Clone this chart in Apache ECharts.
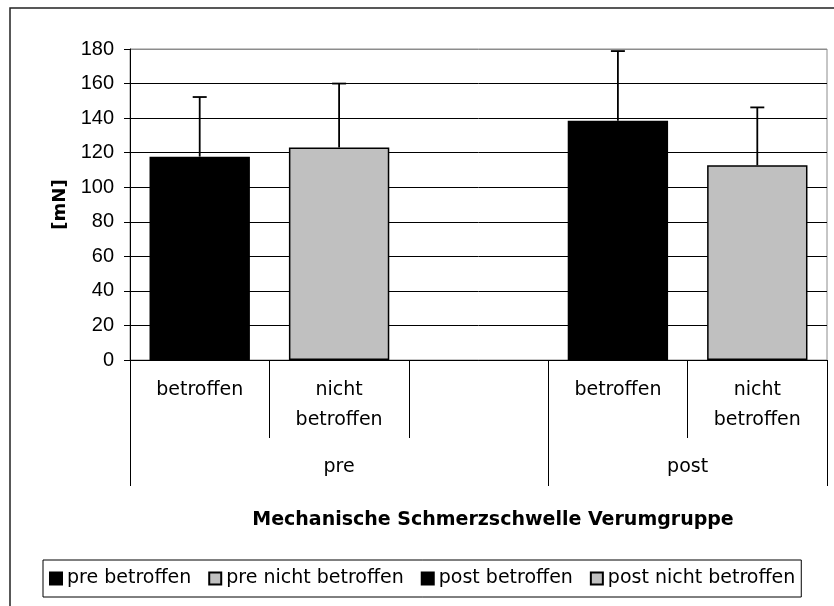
<!DOCTYPE html>
<html>
<head>
<meta charset="utf-8">
<script src="https://cdn.jsdelivr.net/npm/echarts@6/dist/echarts.min.js"></script>
<style>
  html, body { margin: 0; padding: 0; background: #fff; }
  #chart { width: 834px; height: 606px; }
</style>
</head>
<body>
<div id="chart"></div>
<script>
// Inner category axis (one slot left empty between the two phases)
const categories = ['betroffen', 'nicht\nbetroffen', '', 'betroffen', 'nicht\nbetroffen'];
// Outer group labels and the slot positions they span
const groupLabels = ['pre', 'post'];
const groupCenters = [1.5, 4];
const groupBounds = [0, 3, 5];

const seriesNames = ['pre betroffen', 'pre nicht betroffen', 'post betroffen', 'post nicht betroffen'];
const seriesSlots = [0, 1, 3, 4];
const means = [117.7, 123.0, 138.5, 112.7];
const sds = [34.5, 37.0, 40.3, 33.5];

const yTicks = { min: 0, max: 180, step: 20 };

const NUM_FONT = "'Liberation Sans', Arial, sans-serif";
const TEXT_FONT = "'DejaVu Sans', Verdana, sans-serif";
const fills = ['#000000', '#c0c0c0', '#000000', '#c0c0c0'];

const barSeries = seriesNames.map((name, i) => {
  const data = categories.map(() => null);
  data[seriesSlots[i]] = means[i];
  return {
    name: name,
    type: 'bar',
    xAxisIndex: 0,
    yAxisIndex: 0,
    barWidth: '72%',
    barGap: '-100%',
    data: data,
    itemStyle: { color: fills[i], borderColor: '#000', borderWidth: 1.5 },
    emphasis: { disabled: true },
    z: 2
  };
});

const errorData = seriesSlots.map((slot, i) => [slot, means[i], sds[i]]);

const errorSeries = {
  type: 'custom',
  xAxisIndex: 0,
  yAxisIndex: 0,
  data: errorData,
  z: 5,
  silent: true,
  renderItem: function (params, api) {
    const x = api.value(0);
    const base = api.coord([x, api.value(1)]);
    const top = api.coord([x, api.value(1) + api.value(2)]);
    const half = 7;
    const style = { stroke: '#000', lineWidth: 1.8 };
    return {
      type: 'group',
      children: [
        { type: 'line', shape: { x1: base[0], y1: base[1], x2: top[0], y2: top[1] }, style: style },
        { type: 'line', shape: { x1: top[0] - half, y1: top[1], x2: top[0] + half, y2: top[1] }, style: style }
      ]
    };
  }
};

// grid lines are black; the one on top of the plot is grey like the plot frame
const nLines = (yTicks.max - yTicks.min) / yTicks.step + 1;
const splitColors = [];
for (let i = 0; i < nLines; i++) splitColors.push(i === nLines - 1 ? '#8c8c8c' : '#000');

const chart = echarts.init(document.getElementById('chart'), null, { renderer: 'canvas' });
chart.setOption({
  animation: false,
  backgroundColor: '#fff',
  textStyle: { fontFamily: TEXT_FONT },
  title: {
    text: 'Mechanische Schmerzschwelle Verumgruppe',
    left: 488,
    top: 506,
    textAlign: 'center',
    textStyle: { fontFamily: TEXT_FONT, fontSize: 19, fontWeight: 'bold', color: '#000' }
  },
  grid: {
    left: 130, top: 49, right: 7, bottom: 246,
    show: true, borderColor: '#8c8c8c', borderWidth: 1, backgroundColor: 'transparent'
  },
  legend: {
    data: seriesNames,
    left: 43,
    top: 560,
    icon: 'rect',
    itemWidth: 12,
    itemHeight: 12,
    itemGap: 17,
    padding: [9, 6, 9, 6],
    borderColor: '#000',
    borderWidth: 1,
    selectedMode: false,
    textStyle: { fontFamily: TEXT_FONT, fontSize: 19, color: '#000' }
  },
  xAxis: [
    {
      type: 'category',
      data: categories,
      position: 'bottom',
      boundaryGap: true,
      axisLine: { show: true, lineStyle: { color: '#000', width: 1 } },
      axisTick: { show: true, interval: 0, length: 78, lineStyle: { color: '#000', width: 1 } },
      axisLabel: { interval: 0, fontFamily: TEXT_FONT, fontSize: 19, lineHeight: 30, color: '#000', margin: 15 },
      splitLine: { show: false }
    },
    {
      type: 'value',
      min: groupBounds[0],
      max: groupBounds[groupBounds.length - 1],
      position: 'bottom',
      axisLine: { show: false },
      axisTick: { show: true, customValues: groupBounds, length: 126, lineStyle: { color: '#000', width: 1 } },
      axisLabel: {
        customValues: groupCenters,
        fontFamily: TEXT_FONT, fontSize: 19, color: '#000', margin: 98,
        formatter: function (v) {
          const i = groupCenters.indexOf(v);
          return i >= 0 ? groupLabels[i] : '';
        }
      },
      splitLine: { show: false }
    }
  ],
  yAxis: {
    type: 'value',
    min: yTicks.min,
    max: yTicks.max,
    interval: yTicks.step,
    name: '[mN]',
    nameLocation: 'middle',
    nameRotate: 90,
    nameGap: 58,
    nameTextStyle: { fontFamily: TEXT_FONT, fontSize: 18, fontWeight: 'bold', color: '#000' },
    axisLine: { show: true, lineStyle: { color: '#000', width: 1 } },
    axisTick: { show: true, length: 6, lineStyle: { color: '#000' } },
    axisLabel: { fontFamily: NUM_FONT, fontSize: 20, color: '#000', margin: 16 },
    splitLine: { show: true, lineStyle: { color: splitColors, width: 1 } }
  },
  graphic: [
    {
      type: 'rect',
      shape: { x: 10, y: 8, width: 900, height: 700 },
      style: { fill: 'transparent', stroke: '#222', lineWidth: 1.5 },
      silent: true,
      z: 0
    }
  ],
  series: barSeries.concat([errorSeries])
});
</script>
</body>
</html>
